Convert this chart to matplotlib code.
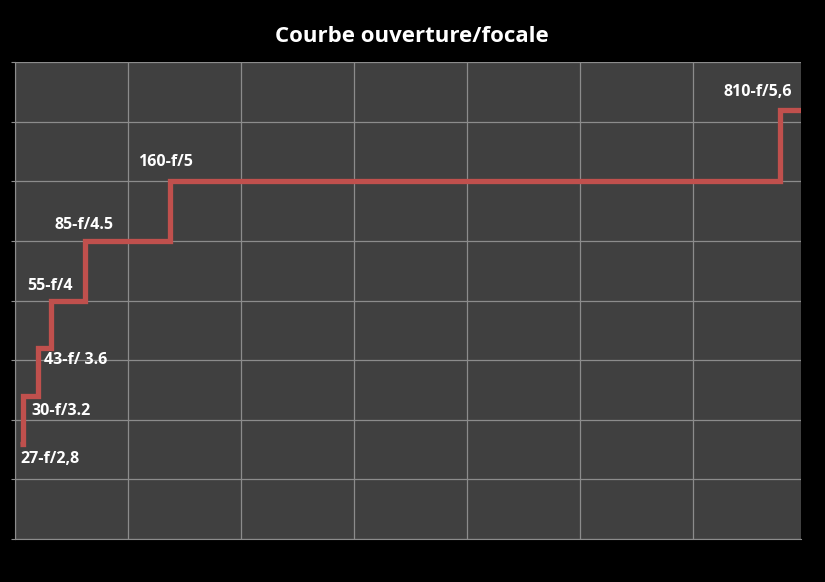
import matplotlib.pyplot as plt
from matplotlib.ticker import MultipleLocator

# focal lengths (mm) as drawn on the axis and apertures
focal = [27, 30, 43, 55, 85, 160, 700]
aperture = [2.8, 3.2, 3.6, 4.0, 4.5, 5.0, 5.6]
labels = ["27-f/2,8", "30-f/3.2", "43-f/ 3.6", "55-f/4", "85-f/4.5", "160-f/5", "810-f/5,6"]

# label offsets in pixels (dx, dy) from each point
offsets = [(1, -15), (9, -15), (6, -12), (-24, 15), (-31, 16), (-32, 19), (-56, 18)]

x_min, x_max = 23, 719

fig = plt.figure(figsize=(8.25, 5.82), dpi=100)
fig.patch.set_facecolor("black")
ax = fig.add_axes([15 / 825, 1 - 539 / 582, 786 / 825, 477 / 582])
ax.set_facecolor("#404040")

# step line: vertical at each focal, horizontal until the next one
xs, ys = [focal[0]], [aperture[0]]
for i in range(1, len(focal)):
    xs += [focal[i], focal[i]]
    ys += [aperture[i - 1], aperture[i]]
xs.append(x_max)
ys.append(aperture[-1])
ax.plot(xs, ys, color="#C0504D", lw=3.8, solid_joinstyle="miter", solid_capstyle="butt", zorder=3)

for f, a, lab, (dx, dy) in zip(focal, aperture, labels, offsets):
    ax.annotate(lab, (f, a), xytext=(dx, dy), textcoords="offset pixels",
                ha="left", va="center", color="white", fontsize=11.5,
                fontweight="bold", family="Open Sans", zorder=4)

ax.set_xlim(x_min, x_max)
ax.set_ylim(2, 6)
ax.yaxis.set_major_locator(MultipleLocator(0.5))
ax.set_xticks([x_min + 100 * k for k in range(7)])
ax.grid(True, color="#8c8c8c", lw=0.9)
ax.set_axisbelow(True)
ax.tick_params(axis="y", length=3, color="#8c8c8c", labelleft=False)
ax.tick_params(axis="x", length=0, labelbottom=False)
for side in ["top", "right"]:
    ax.spines[side].set_visible(False)
for side in ["left", "bottom"]:
    ax.spines[side].set_color("#8c8c8c")

fig.text(412 / 825, 1 - 36 / 582, "Courbe ouverture/focale", ha="center", va="center",
         color="white", fontsize=16, fontweight="bold", family="Open Sans")

fig.savefig("out.png", dpi=100, facecolor=fig.get_facecolor())
